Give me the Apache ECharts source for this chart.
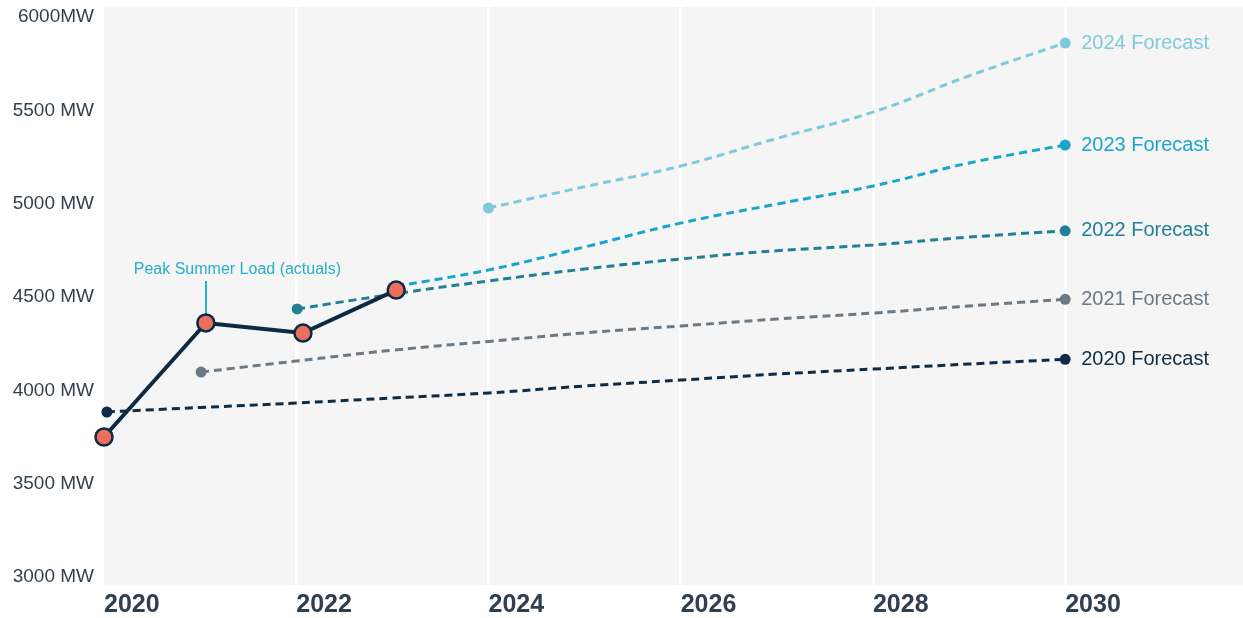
<!DOCTYPE html>
<html>
<head>
<meta charset="utf-8">
<script src="https://cdn.jsdelivr.net/npm/echarts@6/dist/echarts.min.js"></script>
<style>
html,body{margin:0;padding:0;background:#fff;}
#chart{width:1243px;height:618px;}
</style>
</head>
<body>
<div id="chart"></div>
<script>
// ---- data ----
const yTickValues = [3000, 3500, 4000, 4500, 5000, 5500, 6000];
const yTickLabels = ['3000 MW', '3500 MW', '4000 MW', '4500 MW', '5000 MW', '5500 MW', '6000MW'];

const actualYears = [2020, 2021.06, 2022.07, 2023.04];
const actualLoad  = [3750, 4361, 4307, 4537];

const f2020Years = [2020.03, 2021, 2022, 2023, 2024, 2025, 2026, 2027, 2028, 2029, 2030];
const f2020Load  = [3884, 3908, 3932, 3959, 3986, 4023, 4055, 4087, 4114, 4141, 4166];

const f2021Years = [2021.01, 2022, 2023, 2024, 2025, 2026, 2027, 2028, 2029, 2030];
const f2021Load  = [4098, 4157, 4215, 4262, 4308, 4345, 4382, 4414, 4452, 4488];

const f2022Years = [2022.01, 2023, 2024, 2025, 2026, 2027, 2028, 2029, 2030];
const f2022Load  = [4436, 4515, 4586, 4650, 4704, 4748, 4779, 4821, 4855];

const f2023Years = [2023.04, 2024, 2025, 2026, 2027, 2028, 2029, 2030];
const f2023Load  = [4560, 4645, 4768, 4896, 4998, 5095, 5218, 5314];

const f2024Years = [2024, 2025, 2026, 2027, 2028, 2029, 2030];
const f2024Load  = [4977, 5091, 5202, 5350, 5491, 5685, 5861];

const annotationText = 'Peak Summer Load (actuals)';
const annotationYear = 2021.06;
const annotationRange = [4398, 4586];

// ---- helpers ----
const zip = (xs, ys) => xs.map((x, i) => [x, ys[i]]);
const FONT = 'Liberation Sans, Arial, sans-serif';

function forecast(name, years, load, color, startDot) {
  const last = years.length - 1;
  return {
    name: name,
    type: 'line',
    data: zip(years, load),
    smooth: 0.45,
    clip: false,
    symbol: 'circle',
    symbolSize: (v, p) => (p.dataIndex === last || (startDot && p.dataIndex === 0)) ? 11 : 0,
    itemStyle: { color: color },
    lineStyle: { color: color, width: 3, type: [8, 5] },
    z: 3,
    endLabel: {
      show: true,
      formatter: name,
      color: color,
      fontSize: 20,
      fontFamily: FONT,
      distance: 16,
      letterSpacing: -0.6
    }
  };
}

const chart = echarts.init(document.getElementById('chart'), null, { renderer: 'canvas' });

chart.setOption({
  animation: false,
  backgroundColor: '#ffffff',
  grid: {
    left: 104, right: 0, top: 7, bottom: 33,
    show: true, backgroundColor: '#f5f5f5', borderWidth: 0
  },
  xAxis: {
    type: 'value',
    min: 2020, max: 2031.85, interval: 2,
    axisLine: { show: false },
    axisTick: { show: false },
    splitLine: { show: true, showMinLine: false, showMaxLine: false, lineStyle: { color: '#ffffff', width: 3 } },
    axisLabel: {
      showMaxLabel: false,
      align: 'left',
      margin: 8,
      color: '#2f3f50',
      fontSize: 25,
      fontWeight: 'bold',
      fontFamily: FONT,
      formatter: v => (Number.isInteger(v) ? String(v) : '')
    }
  },
  yAxis: {
    type: 'value',
    min: 2957, max: 6054,
    axisLine: { show: false },
    axisTick: { show: false },
    splitLine: { show: false },
    axisLabel: {
      customValues: yTickValues,
      margin: 10,
      color: '#333f4c',
      fontSize: 19,
      fontFamily: FONT,
      letterSpacing: -0.3,
      formatter: v => yTickLabels[yTickValues.indexOf(v)] || ''
    }
  },
  series: [
    forecast('2020 Forecast', f2020Years, f2020Load, '#0e2c47', true),
    forecast('2021 Forecast', f2021Years, f2021Load, '#6b7985', true),
    forecast('2022 Forecast', f2022Years, f2022Load, '#237f98', true),
    forecast('2023 Forecast', f2023Years, f2023Load, '#19a6cb', false),
    forecast('2024 Forecast', f2024Years, f2024Load, '#7ecadc', true),
    {
      name: 'Peak Summer Load (actuals)',
      type: 'line',
      data: zip(actualYears, actualLoad),
      clip: false,
      symbol: 'circle',
      symbolSize: 17,
      lineStyle: { color: '#0d2a44', width: 4 },
      itemStyle: { color: '#ec6f5e', borderColor: '#0d2a44', borderWidth: 2.5 },
      z: 5,
      markLine: {
        silent: true,
        symbol: 'none',
        animation: false,
        lineStyle: { color: '#27b0cc', width: 2, type: 'solid' },
        label: {
          show: true,
          position: 'end',
          distance: 3,
          padding: [0, 0, 0, 63],
          formatter: annotationText,
          color: '#27b0cc',
          fontSize: 16,
          fontFamily: FONT,
          letterSpacing: -0.4
        },
        data: [[
          { coord: [annotationYear, annotationRange[0]] },
          { coord: [annotationYear, annotationRange[1]] }
        ]]
      }
    }
  ]
});
</script>
</body>
</html>
